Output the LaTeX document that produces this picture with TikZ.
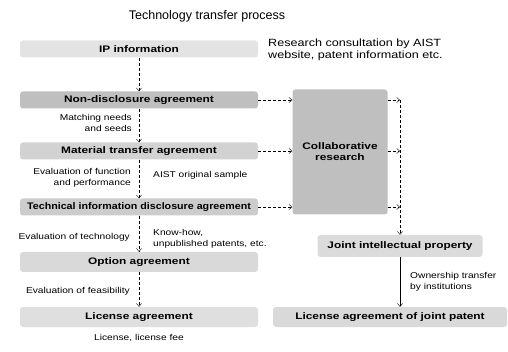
\documentclass[tikz,border=0pt]{standalone}
\usepackage{fontspec}
\usepackage{graphicx}
\setmainfont{Liberation Sans}
\newfontfamily\boxfont[FakeStretch=1.25]{Liberation Sans}
\newfontfamily\notefont[FakeStretch=1.2]{Liberation Sans}
\usetikzlibrary{arrows.meta}
\begin{document}
\begin{tikzpicture}[x=1pt,y=-1pt,
    box/.style={rounded corners=3pt, fill=gray!30, minimum height=17pt, inner sep=1pt,
      font=\boxfont\fontsize{9.5}{11}\selectfont\bfseries},
    note/.style={font=\notefont\fontsize{8.5}{10.5}\selectfont, inner sep=1pt},
    flow/.style={densely dashed, -{Straight Barb[length=3pt,width=5pt]}},
  ]
  \useasboundingbox (0,0) rectangle (508,352);
  % Titre
  \node[font=\fontsize{12.5}{14}\selectfont] (title) at (207,16) {Technology transfer process};
  % Colonne de gauche
  \def\bw{238pt}
  \node[box, minimum width=\bw, fill=gray!22] (ip) at (139,49) {IP information};
  \node[box, minimum width=\bw, fill=gray!50] (nda) at (139,100) {Non-disclosure agreement};
  \node[box, minimum width=\bw, fill=gray!35] (mta) at (139,151) {Material transfer agreement};
  \node[box, minimum width=\bw, fill=gray!40] (tida) at (139,207)
    {\scalebox{0.9}[1]{Technical information disclosure agreement}};
  \node[box, minimum width=\bw, minimum height=20pt, fill=gray!30] (opt) at (139,262) {Option agreement};
  \node[box, minimum width=\bw, minimum height=20pt, fill=gray!25] (lic) at (139,317) {License agreement};
  \node[note] (licfee) at (139,338) {License, license fee};
  % Notes
  \node[note, anchor=west, align=left, font=\notefont\fontsize{10.5}{12.5}\selectfont] (ipnote) at (267,50)
    {Research consultation by AIST\\website, patent information etc.};
  \node[note, anchor=east, align=right] (match) at (133,123) {Matching needs\\and seeds};
  \node[note, anchor=east, align=right] (evalfun) at (132,178) {Evaluation of function\\and performance};
  \node[note, anchor=west] (sample) at (152,175) {AIST original sample};
  \node[note, anchor=east] (evaltech) at (131,237) {Evaluation of technology};
  \node[note, anchor=west, align=left] (knowhow) at (152,239) {Know-how,\\unpublished patents, etc.};
  \node[note, anchor=east] (evalfeas) at (131,291) {Evaluation of feasibility};
  % Fleches verticales
  \draw[flow] (ip) -- (nda);
  \draw[flow] (nda) -- (mta);
  \draw[flow] (mta) -- (tida);
  \draw[flow] (tida) -- (opt);
  \draw[flow] (opt) -- (lic);
  % Recherche collaborative
  \node[box, minimum width=95pt, minimum height=125pt, fill=gray!50, align=center] (collab) at (340,152)
    {Collaborative\\research};
  \draw[flow] (nda.east) -- (nda.east -| collab.west);
  \draw[flow] (mta.east) -- (mta.east -| collab.west);
  \draw[flow] (tida.east) -- (tida.east -| collab.west);
  % Propriete commune
  \node[box, minimum width=165pt, minimum height=22pt, fill=gray!28] (joint) at (400,246) {Joint intellectual property};
  \node[box, minimum width=234pt, minimum height=20pt, fill=gray!30] (ljp) at (390,317) {License agreement of joint patent};
  \coordinate (bus1) at (joint.north |- nda.east);
  \coordinate (bus2) at (joint.north |- mta.east);
  \coordinate (bus3) at (joint.north |- tida.east);
  \draw[flow] (collab.east |- bus1) -- (bus1);
  \draw[flow] (collab.east |- bus2) -- (bus2);
  \draw[flow] (collab.east |- bus3) -- (bus3);
  \draw[flow] (bus1) -- (joint.north);
  \draw[-{Straight Barb[length=3pt,width=5pt]}] (joint.south) -- (joint.south |- ljp.north);
  \node[note, anchor=west, align=left] (owner) at (409,282) {Ownership transfer\\by institutions};
\end{tikzpicture}
\end{document}
